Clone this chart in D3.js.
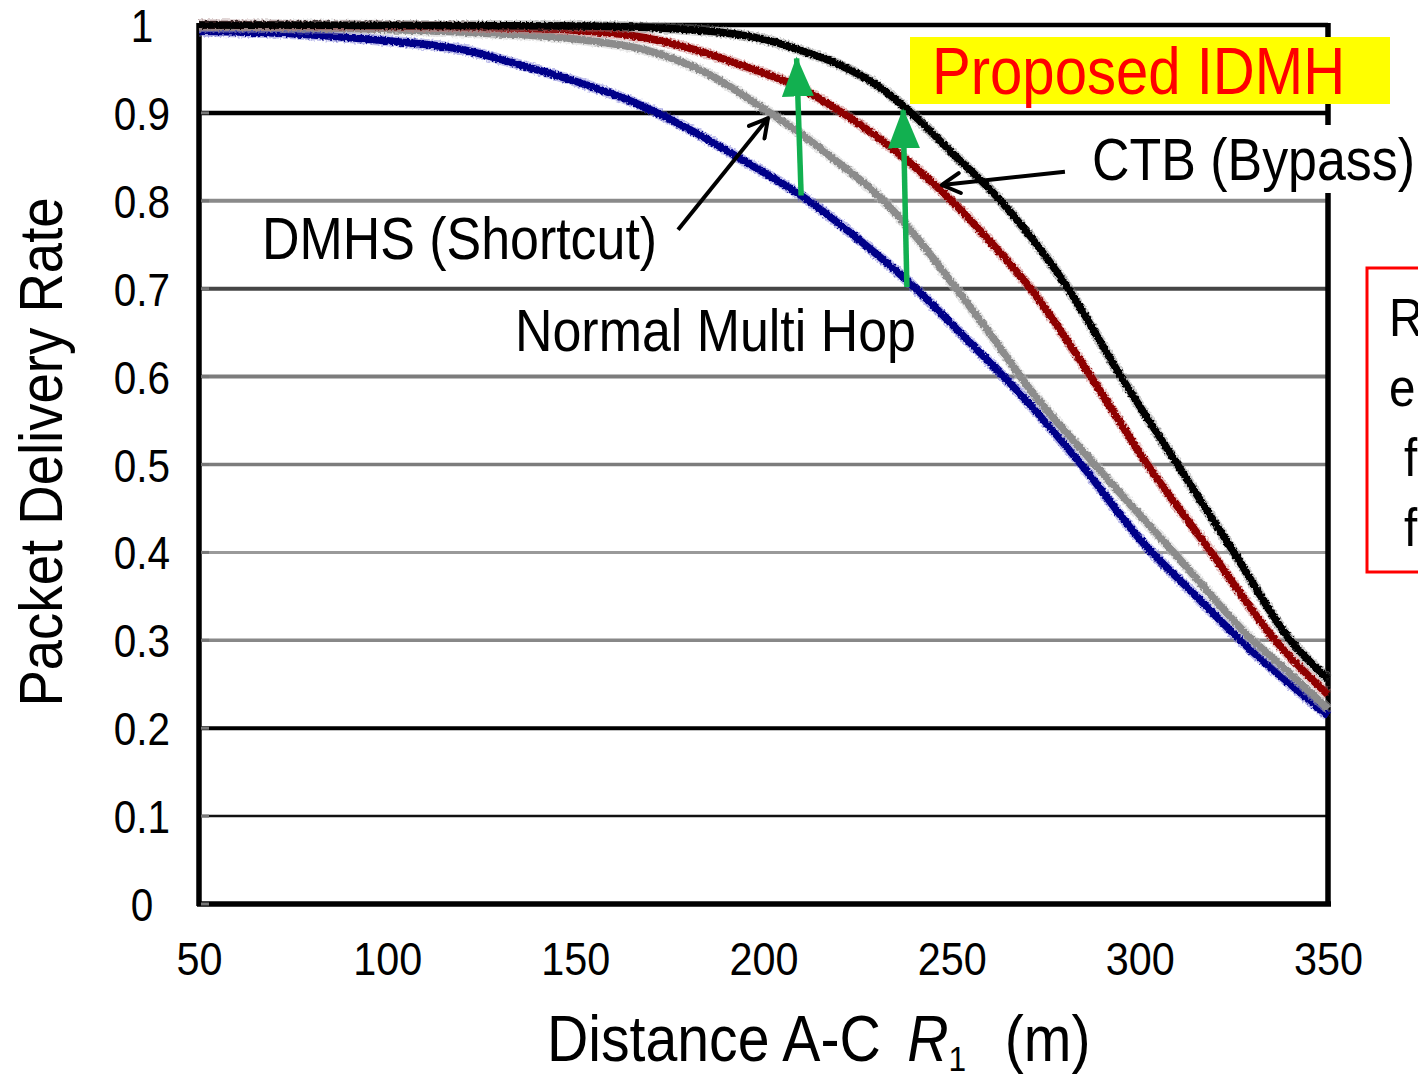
<!DOCTYPE html>
<html>
<head>
<meta charset="utf-8">
<script src="https://cdn.jsdelivr.net/npm/d3@7"></script>
<style>
  html, body { margin: 0; padding: 0; background: #fff; overflow: hidden; }
  svg { display: block; font-family: "Liberation Sans", Arial, Helvetica, sans-serif; }
</style>
</head>
<body>
<svg id="chart" width="1418" height="1077"></svg>
<script>
// Distance A-C (m) at which each curve is sampled
const normalX = [50, 75, 100, 120, 135, 150, 165, 180, 195, 210, 225, 240, 255, 270, 285, 300, 315, 330, 340, 350];
const normalY = [0.993, 0.990, 0.982, 0.972, 0.955, 0.936, 0.913, 0.882, 0.845, 0.806, 0.757, 0.702, 0.638, 0.572, 0.497, 0.415, 0.350, 0.287, 0.250, 0.214];

const dmhsX = [50, 100, 125, 150, 170, 185, 200, 210, 220, 230, 240, 250, 260, 270, 288, 309, 330, 340, 350];
const dmhsY = [0.998, 0.995, 0.991, 0.984, 0.970, 0.945, 0.905, 0.876, 0.843, 0.808, 0.762, 0.707, 0.650, 0.590, 0.500, 0.400, 0.300, 0.262, 0.222];

const ctbX = [50, 100, 130, 150, 165, 180, 195, 210, 221, 235, 250, 261, 271, 287, 302, 319, 336, 350];
const ctbY = [1.000, 0.999, 0.997, 0.994, 0.988, 0.974, 0.953, 0.928, 0.900, 0.857, 0.800, 0.750, 0.700, 0.600, 0.500, 0.400, 0.300, 0.238];

const idmhX = [50, 150, 175, 190, 200, 210, 220, 230, 240, 250, 263, 281, 295, 310, 325, 340, 350];
const idmhY = [1.000, 0.999, 0.996, 0.991, 0.984, 0.971, 0.955, 0.932, 0.897, 0.855, 0.800, 0.700, 0.600, 0.500, 0.400, 0.300, 0.256];

const seriesNames = ["Normal Multi Hop", "DMHS (Shortcut)", "CTB (Bypass)", "Proposed IDMH"];

// Tick values and labels
const xTicks = [50, 100, 150, 200, 250, 300, 350];
const yTicks = [0, 0.1, 0.2, 0.3, 0.4, 0.5, 0.6, 0.7, 0.8, 0.9, 1];
const yTickLabels = ["0", "0.1", "0.2", "0.3", "0.4", "0.5", "0.6", "0.7", "0.8", "0.9", "1"];

// Improvement arrows (green): from Normal Multi Hop up to Proposed IDMH
const gainFromX = [210, 238.1];
const gainFromY = [0.806, 0.702];
const gainToX = [208.8, 237.1];
const gainToY = [0.962, 0.903];

// Pointer arrows for the DMHS and CTB labels: [x0, y0, x1, y1]
const dmhsPointer = [177.3, 0.767, 201.2, 0.894];
const ctbPointer = [280.1, 0.833, 247.4, 0.818];

// ---------------------------------------------------------------
const svg = d3.select("#chart");
const plot = { left: 199, right: 1328, top: 25, bottom: 904 };
const narrow = 0.88; // horizontal squeeze of the lettering

const x = d3.scaleLinear().domain([50, 350]).range([plot.left, plot.right]);
const y = d3.scaleLinear().domain([0, 1]).range([plot.bottom, plot.top]);

// rough, hand-measured look of the traces
const defs = svg.append("defs");
const rough = defs.append("filter").attr("id", "rough")
  .attr("x", "-5%").attr("y", "-5%").attr("width", "110%").attr("height", "110%");
rough.append("feTurbulence").attr("type", "fractalNoise").attr("baseFrequency", 0.5)
  .attr("numOctaves", 2).attr("seed", 3).attr("result", "noise");
rough.append("feDisplacementMap").attr("in", "SourceGraphic").attr("in2", "noise")
  .attr("scale", 4).attr("xChannelSelector", "R").attr("yChannelSelector", "G");

defs.append("marker").attr("id", "greenHead")
  .attr("viewBox", "0 0 40 32").attr("refX", 38).attr("refY", 16)
  .attr("markerWidth", 40).attr("markerHeight", 32)
  .attr("markerUnits", "userSpaceOnUse").attr("orient", "auto")
  .append("path").attr("d", "M0,0 L40,16 L0,32 Z").attr("fill", "#12b050");

defs.append("marker").attr("id", "openHead")
  .attr("viewBox", "0 0 24 24").attr("refX", 21).attr("refY", 12)
  .attr("markerWidth", 24).attr("markerHeight", 24)
  .attr("markerUnits", "userSpaceOnUse").attr("orient", "auto")
  .append("path").attr("d", "M3,2 L21,12 L3,22")
  .attr("fill", "none").attr("stroke", "#000").attr("stroke-width", 4)
  .attr("stroke-linecap", "round").attr("stroke-linejoin", "round");

// horizontal gridlines (each drawn as in the source figure)
const gridStyle = {
  "0.1": ["#111", 2.5], "0.2": ["#000", 4], "0.3": ["#888", 3.5], "0.4": ["#9a9a9a", 3],
  "0.5": ["#7c7c7c", 3.5], "0.6": ["#7c7c7c", 4], "0.7": ["#454545", 4],
  "0.8": ["#8a8a8a", 4], "0.9": ["#000", 4.5], "1": ["#000", 4.5], "0": ["#000", 5]
};
svg.append("g").attr("class", "grid")
  .selectAll("line").data(yTicks.filter(d => d > 0)).join("line")
  .attr("x1", plot.left).attr("x2", plot.right)
  .attr("y1", d => y(d)).attr("y2", d => y(d))
  .attr("stroke", d => gridStyle[String(d)][0])
  .attr("stroke-width", d => gridStyle[String(d)][1]);

// frame: left, bottom, right
const frame = svg.append("g").attr("fill", "none").attr("stroke", "#000");
frame.append("line").attr("x1", plot.left).attr("x2", plot.left)
  .attr("y1", plot.top - 2).attr("y2", plot.bottom + 2).attr("stroke-width", 5.5);
frame.append("line").attr("x1", plot.left - 2).attr("x2", plot.right + 3)
  .attr("y1", plot.bottom).attr("y2", plot.bottom).attr("stroke-width", 5.5);
frame.append("line").attr("x1", plot.right).attr("x2", plot.right)
  .attr("y1", plot.top - 2).attr("y2", plot.bottom + 2).attr("stroke-width", 5.5);

// small inner tick stubs on the left axis
svg.append("g").selectAll("line").data(yTicks).join("line")
  .attr("x1", plot.left + 2).attr("x2", plot.left + 10)
  .attr("y1", d => y(d)).attr("y2", d => y(d))
  .attr("stroke", "#777").attr("stroke-width", 3);

// axes (labels only; the frame above forms the axis lines)
const yAxis = d3.axisLeft(y).tickValues(yTicks)
  .tickFormat((d, i) => yTickLabels[i]).tickSize(0).tickPadding(0);
const gy = svg.append("g").attr("transform", `translate(${plot.left - 57},0)`).call(yAxis);
gy.select(".domain").remove();
gy.selectAll("text").attr("font-size", 46).attr("fill", "#000")
  .attr("text-anchor", "middle").attr("font-family", "Liberation Sans, Arial, sans-serif")
  .attr("x", 0).attr("dy", "0.36em").attr("transform", `scale(${narrow},1)`);

const xAxis = d3.axisBottom(x).tickValues(xTicks).tickFormat(d3.format("d")).tickSize(0).tickPadding(0);
const gx = svg.append("g").attr("transform", `translate(0,${plot.bottom + 71})`).call(xAxis);
gx.select(".domain").remove();
gx.selectAll("text").attr("font-size", 47).attr("fill", "#000").attr("dy", 0)
  .attr("font-family", "Liberation Sans, Arial, sans-serif")
  .attr("transform", `scale(${narrow},1)`);

// curves
const line = d3.line().x(d => x(d[0])).y(d => y(d[1])).curve(d3.curveMonotoneX);
const series = [
  { name: seriesNames[0], xs: normalX, ys: normalY, color: "#000089", halo: "#6a6ad0" },
  { name: seriesNames[1], xs: dmhsX, ys: dmhsY, color: "#8c8c8c", halo: "#c8c8c8" },
  { name: seriesNames[2], xs: ctbX, ys: ctbY, color: "#8e0000", halo: "#c97a7a" },
  { name: seriesNames[3], xs: idmhX, ys: idmhY, color: "#000000", halo: "#8a8a8a" }
];
const curves = svg.append("g").attr("filter", "url(#rough)");
series.forEach(s => {
  const pts = s.xs.map((v, i) => [v, s.ys[i]]);
  curves.append("path").datum(pts).attr("d", line)
    .attr("fill", "none").attr("stroke", s.halo).attr("stroke-opacity", 0.45)
    .attr("stroke-width", 11).attr("stroke-linecap", "butt");
  curves.append("path").datum(pts).attr("d", line)
    .attr("fill", "none").attr("stroke", s.color)
    .attr("stroke-width", 7.5).attr("stroke-linecap", "butt");
});

// green improvement arrows
svg.append("g").selectAll("line").data(gainFromX).join("line")
  .attr("x1", (d, i) => x(d)).attr("y1", (d, i) => y(gainFromY[i]))
  .attr("x2", (d, i) => x(gainToX[i])).attr("y2", (d, i) => y(gainToY[i]))
  .attr("stroke", "#12b050").attr("stroke-width", 5.5)
  .attr("marker-end", "url(#greenHead)");

// helper: squeezed text anchored at its left baseline point
function label(px, py, size, fill, txt) {
  return svg.append("text")
    .attr("transform", `translate(${px},${py}) scale(${narrow},1)`)
    .attr("font-size", size).attr("fill", fill).text(txt);
}

// "Proposed IDMH" on yellow
svg.append("rect").attr("x", 910).attr("y", 37).attr("width", 480).attr("height", 67)
  .attr("fill", "#ffff00");
label(932, 94, 66, "#ff0000", seriesNames[3]);

// "CTB (Bypass)" with white backing over the frame
svg.append("rect").attr("x", 1080).attr("y", 125).attr("width", 338).attr("height", 68)
  .attr("fill", "#fff");
label(1092, 180, 59, "#000", seriesNames[2]);

label(262, 259, 59, "#000", seriesNames[1]);
label(515, 351, 59, "#000", seriesNames[0]);

// pointer arrows
[dmhsPointer, ctbPointer].forEach(p => {
  svg.append("line")
    .attr("x1", x(p[0])).attr("y1", y(p[1])).attr("x2", x(p[2])).attr("y2", y(p[3]))
    .attr("stroke", "#000").attr("stroke-width", 4).attr("marker-end", "url(#openHead)");
});

// red note box at the right edge
svg.append("rect").attr("x", 1367).attr("y", 268).attr("width", 80).attr("height", 304)
  .attr("fill", "none").attr("stroke", "#ff0000").attr("stroke-width", 3);
label(1389, 336, 54, "#000", "R");
label(1389, 406, 54, "#000", "e");
label(1404, 476, 54, "#000", "f");
label(1404, 546, 54, "#000", "f");

// axis titles
svg.append("text")
  .attr("transform", `translate(62,452) rotate(-90) scale(${narrow},1)`)
  .attr("text-anchor", "middle").attr("font-size", 62).attr("fill", "#000")
  .text("Packet Delivery Rate");

const xt = svg.append("text")
  .attr("transform", `translate(547,1061) scale(${narrow},1)`)
  .attr("font-size", 65).attr("fill", "#000");
xt.append("tspan").text("Distance A-C");
xt.append("tspan").attr("dx", 30).attr("font-style", "italic").text("R");
xt.append("tspan").attr("font-size", 36).attr("dy", 10).text("1");
xt.append("tspan").attr("dy", -10).attr("dx", 44).text("(m)");
</script>
</body>
</html>
